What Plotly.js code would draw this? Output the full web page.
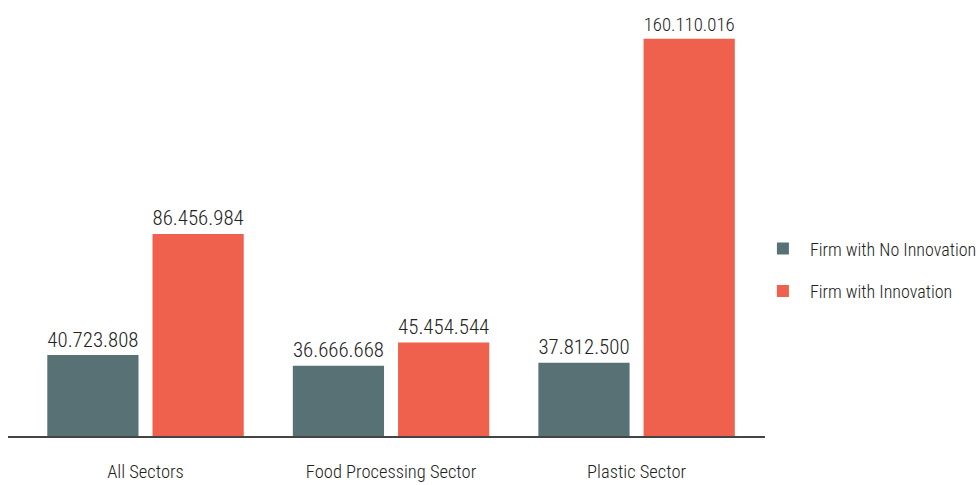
<!DOCTYPE html>
<html>
<head>
<meta charset="utf-8">
<script src="https://cdn.plot.ly/plotly-3.0.1.min.js"></script>
<style>html,body{margin:0;padding:0;background:#fff;overflow:hidden;}#chart{width:1040px;height:485px;}</style>
</head>
<body>
<div id="chart"></div>
<script>
var categories = ["All Sectors", "Food Processing Sector", "Plastic Sector"];
var seriesNames = ["Firm with No Innovation", "Firm with Innovation"];
var noInnovation = [40723808, 36666668, 37812500];
var withInnovation = [86456984, 45454544, 160110016];
var colors = ["#587174", "#EF604D"];
var yOrigin = 10160000;

function fmt(v) {
  return String(v).replace(/\B(?=(\d{3})+(?!\d))/g, ".");
}

var FONT = "'Roboto Condensed', 'Liberation Sans Narrow', Roboto, sans-serif";

var traces = [noInnovation, withInnovation].map(function (vals, i) {
  return {
    type: "bar",
    name: seriesNames[i],
    legendgroup: "g" + i,
    x: categories,
    y: vals.map(function (v) { return v - yOrigin; }),
    base: yOrigin,
    marker: { color: colors[i] },
    text: vals.map(fmt),
    textposition: "outside",
    cliponaxis: false,
    textfont: { family: FONT, size: 23, color: "#222", weight: 300 },
    hoverinfo: "none"
  };
});

var layout = {
  width: 1040,
  height: 485,
  margin: { l: 8, r: 275, t: 10, b: 49 },
  paper_bgcolor: "#fff",
  plot_bgcolor: "#fff",
  barmode: "group",
  bargap: 0.143,
  bargroupgap: 0.133,
  showlegend: true,
  legend: {
    x: 0.988, xanchor: "left", y: 0.39, yanchor: "middle",
    font: { family: FONT, size: 18, color: "#222", weight: 300 },
    traceorder: "grouped",
    tracegroupgap: 16,
    itemwidth: 44
  },
  xaxis: {
    type: "category",
    range: [-0.56, 2.523],
    showline: true, linecolor: "#444", linewidth: 1.5,
    ticks: "", showgrid: false, zeroline: false,
    tickfont: { family: FONT, size: 18.5, color: "#222", weight: 300 },
    ticklabelstandoff: 18
  },
  yaxis: {
    range: [yOrigin, 171000000],
    visible: false, showgrid: false, zeroline: false
  },
  font: { family: FONT }
};

Plotly.newPlot("chart", traces, layout, { displayModeBar: false, staticPlot: true });
</script>
</body>
</html>
